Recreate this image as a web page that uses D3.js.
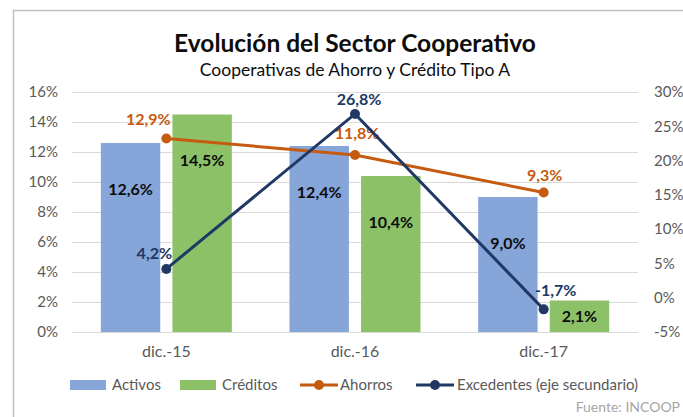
<!DOCTYPE html>
<html>
<head>
<meta charset="utf-8">
<script src="https://cdn.jsdelivr.net/npm/d3@7"></script>
<style>
  body { margin:0; background:#fff; }
  text { font-family: Lato, "Liberation Sans", sans-serif; }
</style>
</head>
<body>
<svg id="chart" width="683" height="417"></svg>
<script>
var categories = ["dic.-15", "dic.-16", "dic.-17"];
var activos = [12.6, 12.4, 9.0];
var creditos = [14.5, 10.4, 2.1];
var ahorros = [12.9, 11.8, 9.3];
var excedentes = [4.2, 26.8, -1.7];
var leftTicks = [0, 2, 4, 6, 8, 10, 12, 14, 16];
var rightTicks = [-5, 0, 5, 10, 15, 20, 25, 30];

var fmt = function(v){ return v.toFixed(1).replace(".", ",") + "%"; };

var svg = d3.select("#chart");
var plotTop = 92, plotBottom = 332, plotLeft = 72, plotRight = 638;

// chart border
svg.append("path")
  .attr("d", "M13.5,417 V10.5 H683")
  .attr("fill", "none").attr("stroke", "#bfbfbf").attr("stroke-width", 1.5);

var x = d3.scaleBand().domain(categories).range([plotLeft, plotRight]);
var yL = d3.scaleLinear().domain([0, 16]).range([plotBottom, plotTop]);
var yR = d3.scaleLinear().domain([-5, 30]).range([plotBottom, plotTop]);
var xs = d3.scaleBand().domain(["a", "c"]).range([0, 131]).paddingInner(0.17);

// grid
svg.append("g").selectAll("line").data(leftTicks).join("line")
  .attr("x1", plotLeft).attr("x2", plotRight)
  .attr("y1", function(d){ return Math.round(yL(d)) + 0.5; })
  .attr("y2", function(d){ return Math.round(yL(d)) + 0.5; })
  .attr("stroke", "#d9d9d9").attr("stroke-width", 1);

// axes
var axL = svg.append("g").attr("transform", "translate(58,0)")
  .call(d3.axisLeft(yL).tickValues(leftTicks).tickSize(0).tickFormat(function(d){ return d + "%"; }));
var axR = svg.append("g").attr("transform", "translate(650,0)")
  .call(d3.axisRight(yR).tickValues(rightTicks).tickSize(0).tickFormat(function(d){ return d + "%"; }));
var axX = svg.append("g").attr("transform", "translate(0," + plotBottom + ")")
  .call(d3.axisBottom(x).tickSize(0).tickPadding(14));
[axL, axR, axX].forEach(function(a){
  a.select(".domain").remove();
  a.selectAll("text").attr("font-size", 15).attr("fill", "#595959")
    .style("font-family", "Lato, sans-serif");
});
axX.selectAll("text").attr("font-size", 16);
axL.selectAll("text").attr("x", 0);
axR.selectAll("text").attr("x", 4);

// bars
var groupX = function(c){ return x(c) + (x.bandwidth() - 131) / 2; };
var series = [{key:"a", vals:activos, color:"#86a5d9"}, {key:"c", vals:creditos, color:"#8cc168"}];
series.forEach(function(s){
  var g = svg.append("g");
  g.selectAll("rect").data(s.vals).join("rect")
    .attr("x", function(d, i){ return groupX(categories[i]) + xs(s.key); })
    .attr("width", xs.bandwidth())
    .attr("y", function(d){ return yL(d); })
    .attr("height", function(d){ return plotBottom - yL(d); })
    .attr("fill", s.color);
  g.selectAll("text").data(s.vals).join("text")
    .attr("x", function(d, i){ return groupX(categories[i]) + xs(s.key) + xs.bandwidth() / 2; })
    .attr("y", function(d){
      var h = plotBottom - yL(d);
      return h > 90 ? yL(d) + 46 : yL(d) + h / 2;
    })
    .attr("dy", "0.35em")
    .attr("text-anchor", "middle")
    .attr("font-size", 16).attr("font-weight", "bold").attr("fill", "#0d0d0d")
    .text(fmt);
});

// lines
function drawLine(vals, y, color, dxs, dys) {
  var cx = function(d, i){ return x(categories[i]) + x.bandwidth() / 2; };
  var g = svg.append("g");
  g.append("path").datum(vals)
    .attr("d", d3.line().x(cx).y(function(d){ return y(d); }))
    .attr("fill", "none").attr("stroke", color).attr("stroke-width", 3);
  g.selectAll("circle").data(vals).join("circle")
    .attr("cx", cx).attr("cy", function(d){ return y(d); })
    .attr("r", 5).attr("fill", color);
  g.selectAll("text").data(vals).join("text")
    .attr("x", function(d, i){ return cx(d, i) + dxs[i]; })
    .attr("y", function(d, i){ return y(d) + dys[i]; })
    .attr("dy", "0.35em")
    .attr("text-anchor", "middle")
    .attr("font-size", 16).attr("font-weight", "bold").attr("fill", color)
    .text(fmt);
}
drawLine(ahorros, yL, "#c55a11", [-18, 2, 1], [-19, -22, -17]);
drawLine(excedentes, yR, "#203864", [-12, 4, 12], [-16, -15, -19]);

// title
svg.append("text").attr("x", 355).attr("y", 52).attr("text-anchor", "middle")
  .attr("font-size", 24.5).attr("font-weight", "bold").attr("fill", "#0d0d0d")
  .text("Evolución del Sector Cooperativo");
svg.append("text").attr("x", 355).attr("y", 76).attr("text-anchor", "middle")
  .attr("font-size", 17.5).attr("fill", "#0d0d0d")
  .text("Cooperativas de Ahorro y Crédito Tipo A");

// legend
var leg = svg.append("g").attr("transform", "translate(0,385)");
var legItems = [
  {name:"Activos", color:"#86a5d9", type:"bar", x:70, tx:112},
  {name:"Créditos", color:"#8cc168", type:"bar", x:180, tx:222},
  {name:"Ahorros", color:"#c55a11", type:"line", x:300, tx:340},
  {name:"Excedentes (eje secundario)", color:"#203864", type:"line", x:416, tx:457}
];
legItems.forEach(function(it){
  if (it.type == "bar") {
    leg.append("rect").attr("x", it.x).attr("y", -5).attr("width", 36).attr("height", 10).attr("fill", it.color);
  } else {
    leg.append("line").attr("x1", it.x).attr("x2", it.x + 38).attr("y1", 0).attr("y2", 0)
      .attr("stroke", it.color).attr("stroke-width", 3);
    leg.append("circle").attr("cx", it.x + 19).attr("cy", 0).attr("r", 5).attr("fill", it.color);
  }
  leg.append("text").attr("x", it.tx).attr("y", 0).attr("dy", "0.35em")
    .attr("font-size", 15).attr("fill", "#595959").text(it.name);
});

svg.append("text").attr("x", 680).attr("y", 412).attr("text-anchor", "end")
  .attr("font-size", 14).attr("fill", "#a6a6a6").text("Fuente: INCOOP");
</script>
</body>
</html>
